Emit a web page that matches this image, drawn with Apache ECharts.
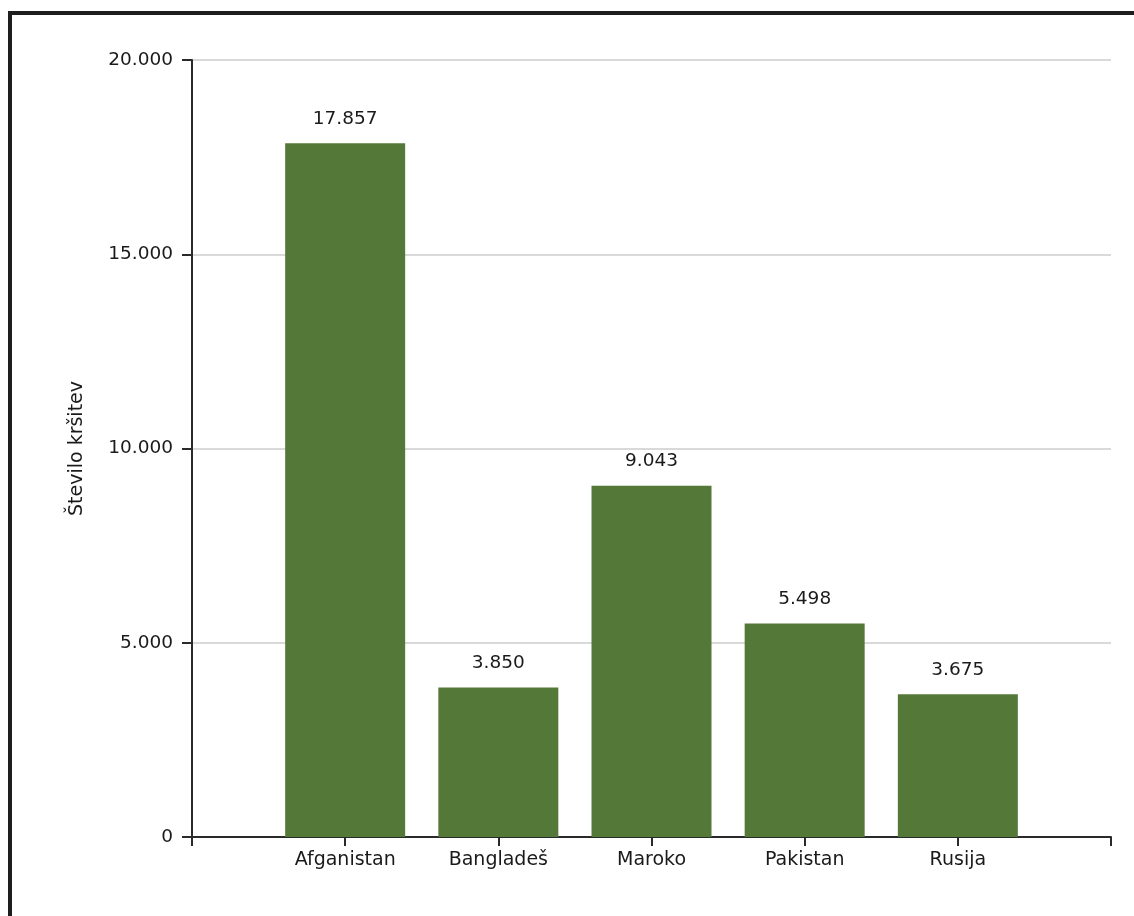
<!DOCTYPE html>
<html><head><meta charset="utf-8">
<script src="https://cdn.jsdelivr.net/npm/echarts@6/dist/echarts.min.js"></script>
<style>html,body{margin:0;padding:0;background:#fff}#c{width:1134px;height:916px}</style>
</head><body><div id="c"></div>
<script>
const categories = ['Afganistan', 'Bangladeš', 'Maroko', 'Pakistan', 'Rusija'];
const values = [17857, 3850, 9043, 5498, 3675];
const yTicks = [0, 5000, 10000, 15000, 20000];
const yTitle = 'Število kršitev';

const axisCats = [''].concat(categories, ['']);
const seriesData = [null].concat(values, [null]);
const fmt = v => String(v).replace(/\B(?=(\d{3})+(?!\d))/g, '.');
const FONT = '"DejaVu Sans", Verdana, sans-serif';

const chart = echarts.init(document.getElementById('c'), null, {renderer: 'canvas'});
chart.setOption({
  animation: false,
  backgroundColor: '#ffffff',
  grid: {left: 192, right: 23, top: 60, bottom: 79, containLabel: false},
  graphic: [{
    type: 'polyline', silent: true,
    shape: {points: [[10, 916], [10, 13], [1134, 13]]},
    style: {stroke: '#1e1e1e', lineWidth: 4, fill: null}
  }],
  xAxis: {
    type: 'category', data: axisCats, boundaryGap: false,
    axisLine: {lineStyle: {color: '#2a2a2a', width: 2}},
    axisTick: {show: true, length: 9, lineStyle: {color: '#2a2a2a', width: 2}, interval: 0},
    axisLabel: {color: '#1a1a1a', fontFamily: FONT, fontSize: 19, margin: 14, interval: 0},
    splitLine: {show: false}
  },
  yAxis: {
    type: 'value', min: yTicks[0], max: yTicks[yTicks.length - 1], interval: yTicks[1] - yTicks[0],
    name: yTitle, nameLocation: 'middle', nameGap: 105, nameRotate: 90,
    nameTextStyle: {color: '#1a1a1a', fontFamily: FONT, fontSize: 19},
    axisLine: {show: true, lineStyle: {color: '#2a2a2a', width: 2}},
    axisTick: {show: true, length: 10, lineStyle: {color: '#2a2a2a', width: 2}},
    axisLabel: {color: '#1a1a1a', fontFamily: FONT, fontSize: 18.5, margin: 19, formatter: v => fmt(v)},
    splitLine: {show: true, lineStyle: {color: '#d9d9d9', width: 2}}
  },
  series: [{
    type: 'bar', data: seriesData, barWidth: 120,
    itemStyle: {color: '#547837'},
    label: {show: true, position: 'top', distance: 15, color: '#1a1a1a', fontFamily: FONT, fontSize: 18.5,
      formatter: p => fmt(p.value)}
  }]
});
</script></body></html>
